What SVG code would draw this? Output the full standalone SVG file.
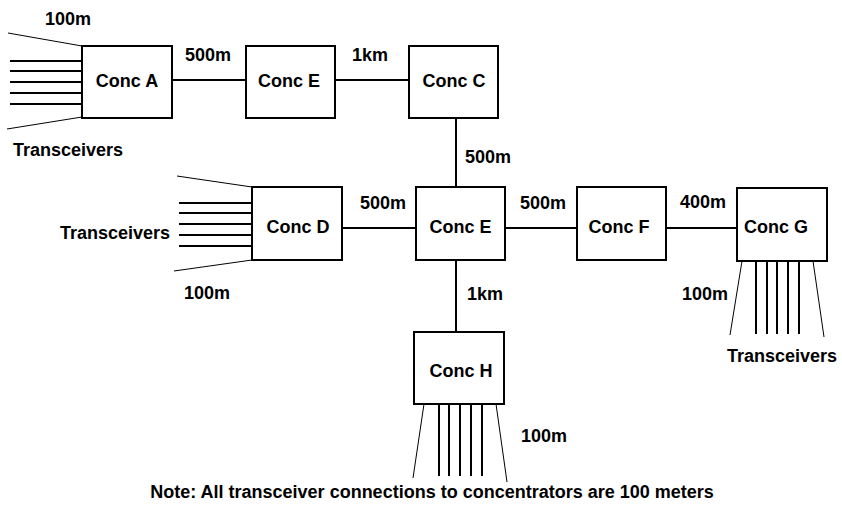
<svg xmlns="http://www.w3.org/2000/svg" width="842" height="508" viewBox="0 0 842 508">
<style>
.box{fill:#fff;stroke:#000;stroke-width:2}
.ln{stroke:#000;stroke-width:2;fill:none}
.thin{stroke:#000;stroke-width:1;fill:none}
text{font-family:"Liberation Sans",Arial,sans-serif;font-weight:bold;font-size:18px;fill:#000}
.c{text-anchor:middle}
</style>
<rect width="842" height="508" fill="#fff"/>
<g id="connectors">
<line class="ln" x1="172" y1="80" x2="246" y2="80"/>
<line class="ln" x1="335" y1="80" x2="409" y2="80"/>
<line class="ln" x1="456" y1="118" x2="456" y2="187"/>
<line class="ln" x1="342" y1="228" x2="416" y2="228"/>
<line class="ln" x1="505" y1="228" x2="577" y2="228"/>
<line class="ln" x1="666" y1="228" x2="737" y2="228"/>
<line class="ln" x1="456" y1="260" x2="456" y2="332"/>
</g>
<g id="transceivers-A">
<line class="ln" x1="10" y1="61" x2="82" y2="61"/>
<line class="ln" x1="10" y1="71" x2="82" y2="71"/>
<line class="ln" x1="10" y1="82" x2="82" y2="82"/>
<line class="ln" x1="10" y1="93" x2="82" y2="93"/>
<line class="ln" x1="10" y1="104" x2="82" y2="104"/>
<line class="thin" x1="8" y1="33" x2="82" y2="46"/>
<line class="thin" x1="7" y1="129" x2="82" y2="117"/>
</g>
<g id="transceivers-D">
<line class="ln" x1="179" y1="203" x2="252" y2="203"/>
<line class="ln" x1="179" y1="213" x2="252" y2="213"/>
<line class="ln" x1="179" y1="224" x2="252" y2="224"/>
<line class="ln" x1="179" y1="235" x2="252" y2="235"/>
<line class="ln" x1="179" y1="246" x2="252" y2="246"/>
<line class="thin" x1="177" y1="176" x2="252" y2="187"/>
<line class="thin" x1="174" y1="271" x2="252" y2="260"/>
</g>
<g id="transceivers-G">
<line class="ln" x1="756" y1="261" x2="756" y2="334"/>
<line class="ln" x1="767" y1="261" x2="767" y2="334"/>
<line class="ln" x1="777" y1="261" x2="777" y2="334"/>
<line class="ln" x1="788" y1="261" x2="788" y2="334"/>
<line class="ln" x1="799" y1="261" x2="799" y2="334"/>
<line class="thin" x1="742" y1="261" x2="730" y2="335"/>
<line class="thin" x1="813" y1="261" x2="824" y2="337"/>
</g>
<g id="transceivers-H">
<line class="ln" x1="439" y1="404" x2="439" y2="476"/>
<line class="ln" x1="449" y1="404" x2="449" y2="476"/>
<line class="ln" x1="460" y1="404" x2="460" y2="476"/>
<line class="ln" x1="471" y1="404" x2="471" y2="476"/>
<line class="ln" x1="482" y1="404" x2="482" y2="476"/>
<line class="thin" x1="424" y1="404" x2="413" y2="478"/>
<line class="thin" x1="496" y1="404" x2="507" y2="482"/>
</g>
<g id="concA"><rect class="box" x="82" y="46" width="90" height="72"/><text class="c" x="127" y="87">Conc A</text></g>
<g id="concE1"><rect class="box" x="246" y="46" width="89" height="72"/><text class="c" x="289" y="87">Conc E</text></g>
<g id="concC"><rect class="box" x="409" y="46" width="89" height="72"/><text class="c" x="454" y="87">Conc C</text></g>
<g id="concD"><rect class="box" x="252" y="187" width="90" height="73"/><text class="c" x="298" y="233">Conc D</text></g>
<g id="concE2"><rect class="box" x="416" y="187" width="89" height="73"/><text class="c" x="460.5" y="233">Conc E</text></g>
<g id="concF"><rect class="box" x="577" y="187" width="89" height="73"/><text class="c" x="619" y="233">Conc F</text></g>
<g id="concG"><rect class="box" x="737" y="188" width="90" height="73"/><text x="744" y="233">Conc G</text></g>
<g id="concH"><rect class="box" x="414" y="332" width="90" height="72"/><text class="c" x="461" y="377">Conc H</text></g>
<g id="labels">
<text x="45" y="25">100m</text>
<text x="13" y="156">Transceivers</text>
<text x="185" y="61">500m</text>
<text x="352" y="61">1km</text>
<text x="465" y="163">500m</text>
<text x="60" y="239">Transceivers</text>
<text x="360" y="209">500m</text>
<text x="520" y="209">500m</text>
<text x="680" y="208">400m</text>
<text x="184" y="299">100m</text>
<text x="467" y="300">1km</text>
<text x="682" y="300">100m</text>
<text x="727" y="362">Transceivers</text>
<text x="521" y="442">100m</text>
<text class="c" x="432" y="498">Note: All transceiver connections to concentrators are 100 meters</text>
</g>
</svg>
